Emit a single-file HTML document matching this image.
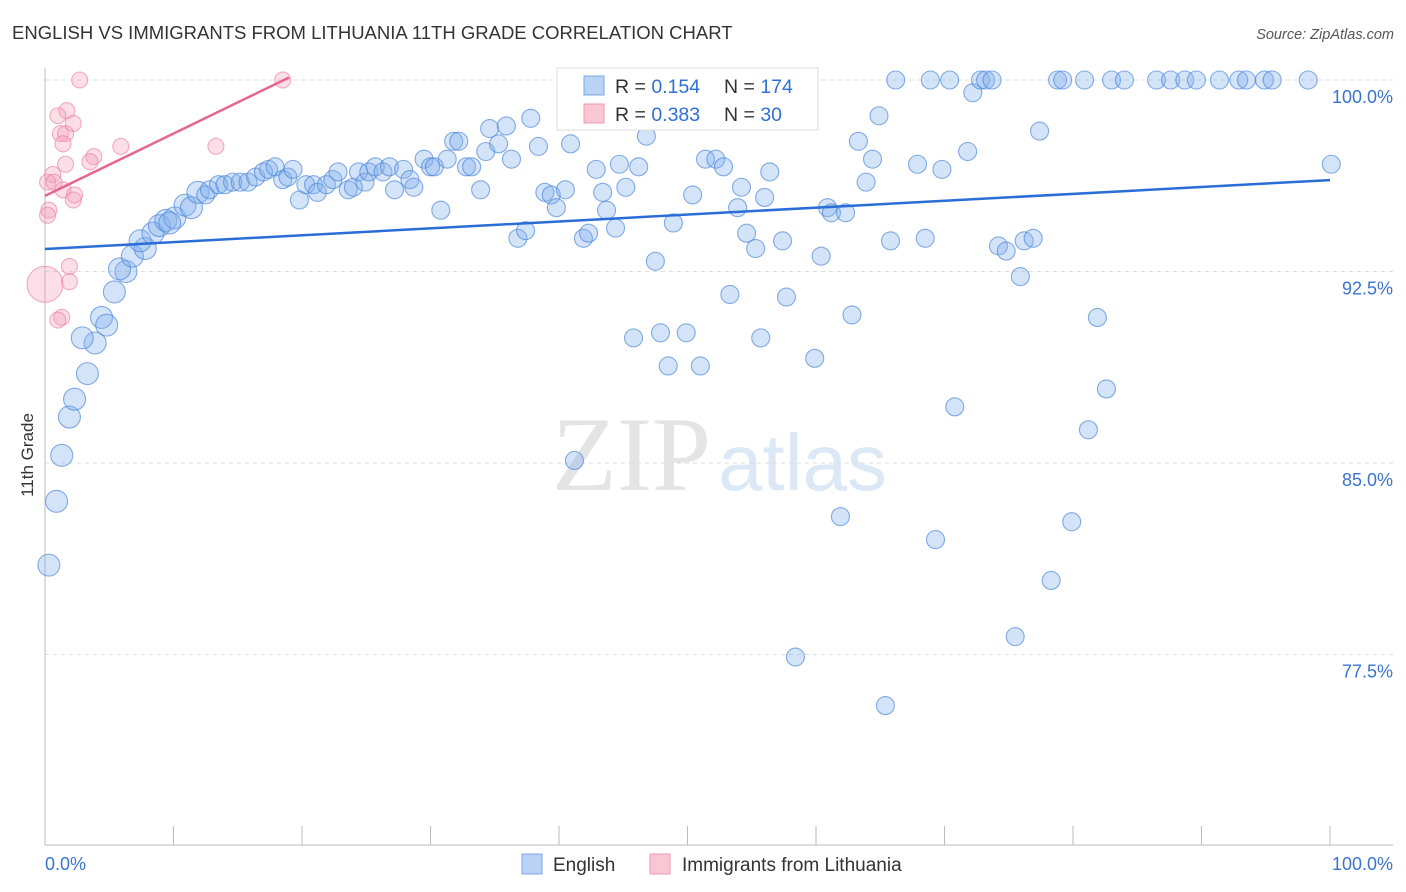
<!DOCTYPE html>
<html><head><meta charset="utf-8"><style>
body{margin:0;background:#fff;font-family:"Liberation Sans",sans-serif}
svg{display:block}
</style></head><body>
<svg id="chart" width="1406" height="892" xmlns="http://www.w3.org/2000/svg">
<text x="12" y="39" font-size="18.5" fill="#333">ENGLISH VS IMMIGRANTS FROM LITHUANIA 11TH GRADE CORRELATION CHART</text>
<text x="1394" y="39" font-size="14.5" font-style="italic" fill="#555" text-anchor="end">Source: ZipAtlas.com</text>
<text x="552" y="490" font-size="106" font-family="Liberation Serif,serif" fill="#e4e4e4">ZIP</text>
<text x="718" y="490" font-size="80" fill="#dce8f6">atlas</text>
<g id="grid"></g>
<g id="axes"></g>
<g id="pts"></g>
<text transform="translate(33,455) rotate(-90)" font-size="17" fill="#333" text-anchor="middle">11th Grade</text>
<g>
<rect x="557" y="68" width="261" height="62" fill="#fff" stroke="#ddd"/>
<rect x="584" y="76" width="20" height="19" fill="#b9d3f5" stroke="#7aa6e6"/>
<rect x="584" y="104" width="20" height="19" fill="#f9c6d3" stroke="#ef9ab3"/>
<text x="615" y="93" font-size="19.5" fill="#333">R = <tspan fill="#2f6fd6">0.154</tspan><tspan x="724">N = </tspan><tspan fill="#2f6fd6">174</tspan></text>
<text x="615" y="121" font-size="19.5" fill="#333">R = <tspan fill="#2f6fd6">0.383</tspan><tspan x="724">N = </tspan><tspan fill="#2f6fd6"> 30</tspan></text>
</g>
<g>
<rect x="522" y="854" width="20" height="20" fill="#b9d3f5" stroke="#7aa6e6"/>
<text x="553" y="871" font-size="19" fill="#333">English</text>
<rect x="650" y="854" width="20" height="20" fill="#f9c6d3" stroke="#ef9ab3"/>
<text x="682" y="871" font-size="19" fill="#333">Immigrants from Lithuania</text>
</g>
</svg>
<script>
const blueX=[0.3,0.9,1.3,1.9,2.3,3.3,3.9,2.9,4.4,4.8,5.4,6.3,5.8,6.8,7.8,7.4,8.4,8.9,9.4,10.1,9.7,10.9,11.4,11.9,12.5,12.8,13.5,14.0,14.6,15.2,15.8,16.4,17.0,17.4,17.9,18.5,18.9,19.3,19.8,20.3,20.9,21.2,21.9,22.4,22.8,23.6,24.0,24.4,24.9,25.2,25.7,26.3,26.8,27.2,27.9,28.4,28.7,29.5,30.0,30.3,30.8,31.3,31.8,32.2,32.8,33.2,33.9,34.3,34.6,35.3,35.9,36.3,36.8,37.4,37.8,38.4,38.9,39.4,39.8,40.5,40.9,41.2,41.9,42.3,42.9,43.4,43.7,44.4,44.7,45.2,45.8,46.2,46.8,47.5,47.9,48.5,48.9,49.9,50.4,51.0,51.4,52.2,52.8,53.3,53.9,54.2,54.6,55.3,55.7,56.0,56.4,57.4,57.7,58.4,59.3,59.9,60.4,60.9,61.2,61.9,62.3,62.8,63.3,63.9,64.4,64.9,65.4,65.8,66.2,67.9,68.5,68.9,69.3,69.8,70.4,70.8,71.8,72.2,72.8,73.2,73.7,74.2,74.8,75.5,75.9,76.2,76.9,77.4,78.3,78.8,79.2,79.9,80.9,81.2,81.9,82.6,83.0,84.0,86.5,87.6,88.7,89.6,91.4,92.9,93.5,94.9,95.5,98.3,100.1];
const blueY=[81.0,83.5,85.3,86.8,87.5,88.5,89.7,89.9,90.7,90.4,91.7,92.5,92.6,93.1,93.4,93.7,94.0,94.3,94.5,94.6,94.4,95.1,95.0,95.6,95.5,95.7,95.9,95.9,96.0,96.0,96.0,96.2,96.4,96.5,96.6,96.1,96.2,96.5,95.3,95.9,95.9,95.6,95.9,96.1,96.4,95.7,95.8,96.4,96.0,96.4,96.6,96.4,96.6,95.7,96.5,96.1,95.8,96.9,96.6,96.6,94.9,96.9,97.6,97.6,96.6,96.6,95.7,97.2,98.1,97.5,98.2,96.9,93.8,94.1,98.5,97.4,95.6,95.5,95.0,95.7,97.5,85.1,93.8,94.0,96.5,95.6,94.9,94.2,96.7,95.8,89.9,96.6,97.8,92.9,90.1,88.8,94.4,90.1,95.5,88.8,96.9,96.9,96.6,91.6,95.0,95.8,94.0,93.4,89.9,95.4,96.4,93.7,91.5,77.4,99.5,89.1,93.1,95.0,94.8,82.9,94.8,90.8,97.6,96.0,96.9,98.6,75.5,93.7,100,96.7,93.8,100,82.0,96.5,100,87.2,97.2,99.5,100,100,100,93.5,93.3,78.2,92.3,93.7,93.8,98.0,80.4,100,100,82.7,100,86.3,90.7,87.9,100,100,100,100,100,100,100,100,100,100,100,100,96.7];
const pinkX=[2.7,18.5,1.7,1.0,2.2,1.2,1.6,1.4,5.9,13.3,3.8,3.5,1.6,0.6,0.2,0.7,1.4,2.3,2.2,0.3,0.2,1.9,1.9,0.0,1.3,1.0];
const pinkY=[100,100,98.8,98.6,98.3,97.9,97.9,97.5,97.4,97.4,97.0,96.8,96.7,96.3,96.0,96.0,95.7,95.5,95.3,94.9,94.7,92.7,92.1,92.0,90.7,90.6];
const blueTrend=[93.38,96.08];
const pinkTrend=[95.46,100.1,19.0];
const yTicks=[100,92.5,85,77.5];
const yTickLabels=["100.0%","92.5%","85.0%","77.5%"];
const xTickValues=[0,10,20,30,40,50,60,70,80,90,100];

const NS="http://www.w3.org/2000/svg";
const X=v=>45+v*12.85;
const Y=v=>80+(100-v)*191.5/7.5;
function mk(t,a,p){const e=document.createElementNS(NS,t);for(const k in a)e.setAttribute(k,a[k]);p.appendChild(e);return e;}
const grid=document.getElementById('grid'),axes=document.getElementById('axes'),pts=document.getElementById('pts');
yTicks.forEach((v,i)=>{
 const l=mk('line',{x1:45,x2:1393,y1:Y(v),y2:Y(v),stroke:'#ddd','stroke-dasharray':'4,4'},grid);
 
 
 const t=mk('text',{x:1393,y:Y(v)+23,'font-size':18,fill:'#3b73d1','text-anchor':'end'},axes);
 t.textContent=yTickLabels[i];
 
 
});
mk('line',{x1:45,x2:45,y1:68,y2:845,stroke:'#bbb'},axes);
mk('line',{x1:45,x2:1393,y1:845,y2:845,stroke:'#bbb'},axes);
xTickValues.forEach(v=>{
 const tk=mk('line',{x1:X(v),x2:X(v),y1:826,y2:845,stroke:'#bbb'},axes);
 
 
});
const x0=mk('text',{x:45,y:870,'font-size':18,fill:'#3b73d1'},axes);x0.textContent='0.0%';


const x1=mk('text',{x:1393,y:870,'font-size':18,fill:'#3b73d1','text-anchor':'end'},axes);x1.textContent='100.0%';


pinkX.forEach((v,i)=>{
 const r=(i===23)?18:8;
 const c=mk('circle',{cx:X(v),cy:Y(pinkY[i]),r:r,fill:'rgba(244,160,185,0.35)',stroke:'rgba(236,130,160,0.65)','stroke-width':1.1},pts);
 
 
});
blueX.forEach((v,i)=>{
 const r=v<12?11:9;
 const c=mk('circle',{cx:X(v),cy:Y(blueY[i]),r:r,fill:'rgba(130,175,235,0.35)',stroke:'rgba(70,130,215,0.65)','stroke-width':1.1},pts);
 
 
});
const bl=mk('line',{x1:X(0),y1:Y(blueTrend[0]),x2:X(100),y2:Y(blueTrend[1]),stroke:'#2a6dd6','stroke-width':2.5},pts);


const pl=mk('line',{x1:X(0),y1:Y(pinkTrend[0]),x2:X(pinkTrend[2]),y2:Y(pinkTrend[1]),stroke:'#e8668e','stroke-width':2.5},pts);


</script>
</body></html>
